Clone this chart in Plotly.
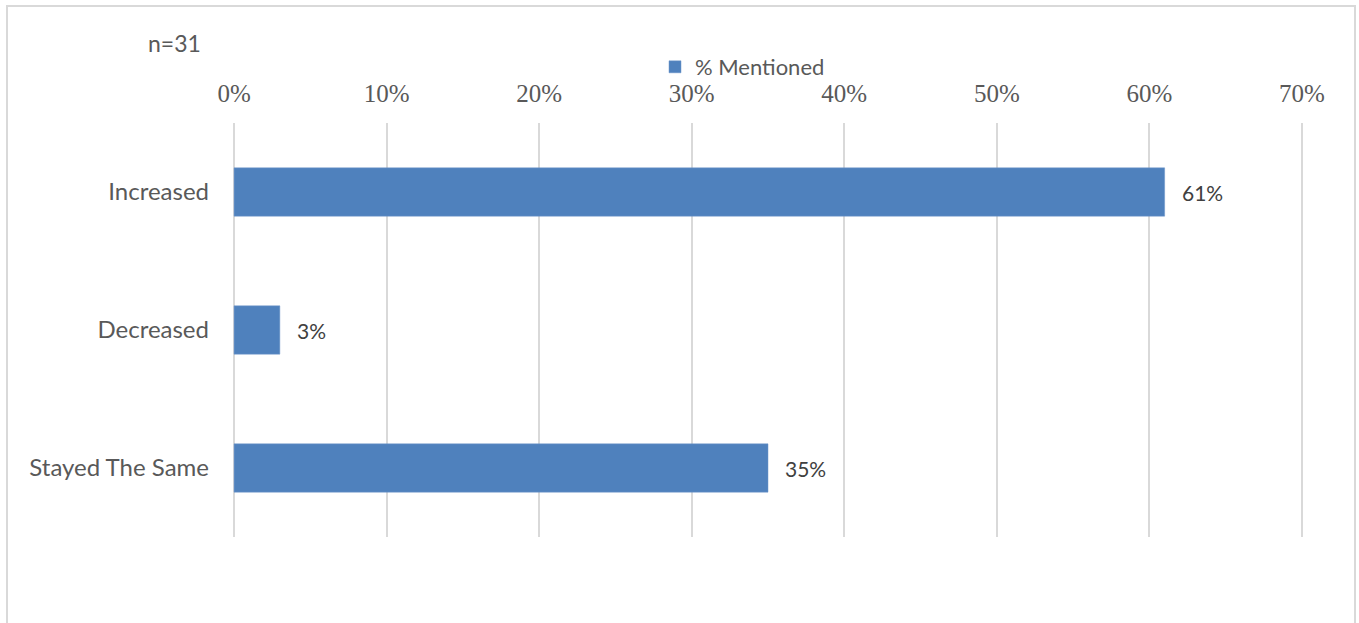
import plotly.graph_objects as go

categories = ["Increased", "Decreased", "Stayed The Same"]
values = [0.61, 0.03, 0.35]
labels = ["61%", "3%", "35%"]
series_name = "% Mentioned"
note = "n=31"

W, H = 1359, 623
L, R, T, B = 233, 56, 123, 86
pw, ph = W - L - R, H - T - B

def px_x(p):
    return (p - L) / pw

def px_y(p):
    return (H - B - p) / ph

SANS = "Lato, Open Sans, sans-serif"

fig = go.Figure()
fig.add_trace(go.Bar(
    y=categories, x=values, orientation="h", name=series_name,
    marker=dict(color="#4f81bd", line=dict(color="#6f97cb", width=0.5)),
    width=0.35, showlegend=True,
))

for c, v, t in zip(categories, values, labels):
    fig.add_annotation(x=v, y=c, text=t, xanchor="left", yanchor="middle",
                       xshift=15, showarrow=False,
                       font=dict(family=SANS, size=21, color="#404040"))

fig.add_annotation(xref="paper", yref="paper", x=px_x(146), y=px_y(43), text=note,
                   xanchor="left", yanchor="middle", showarrow=False,
                   font=dict(family=SANS, size=23, color="#595959"))

fig.add_shape(type="rect", xref="paper", yref="paper",
              x0=px_x(7), x1=px_x(1355), y0=px_y(640), y1=px_y(6),
              line=dict(color="#d9d9d9", width=2), fillcolor="rgba(0,0,0,0)", layer="below")

fig.update_layout(
    width=W, height=H,
    margin=dict(l=L, r=R, t=T, b=B),
    plot_bgcolor="white", paper_bgcolor="white",
    legend=dict(orientation="h", x=px_x(655), y=px_y(67), xanchor="left", yanchor="middle",
                font=dict(family=SANS, size=22, color="#595959"),
                bgcolor="rgba(0,0,0,0)", traceorder="normal"),
    xaxis=dict(side="top", range=[-0.0007, 0.7007], tickvals=[0, 0.1, 0.2, 0.3, 0.4, 0.5, 0.6, 0.7],
               tickformat=".0%",
               showgrid=True, gridcolor="#d9d9d9", gridwidth=2,
               zeroline=False, showline=False,
               tickfont=dict(family="Liberation Serif, serif", size=25, color="#595959"),
               ticklabelstandoff=15),
    yaxis=dict(categoryorder="array", categoryarray=categories, autorange="reversed",
               showgrid=False, zeroline=False, showline=False,
               tickfont=dict(family=SANS, size=24, color="#595959"),
               ticklabelstandoff=23),
)

fig.write_html("out.html")
